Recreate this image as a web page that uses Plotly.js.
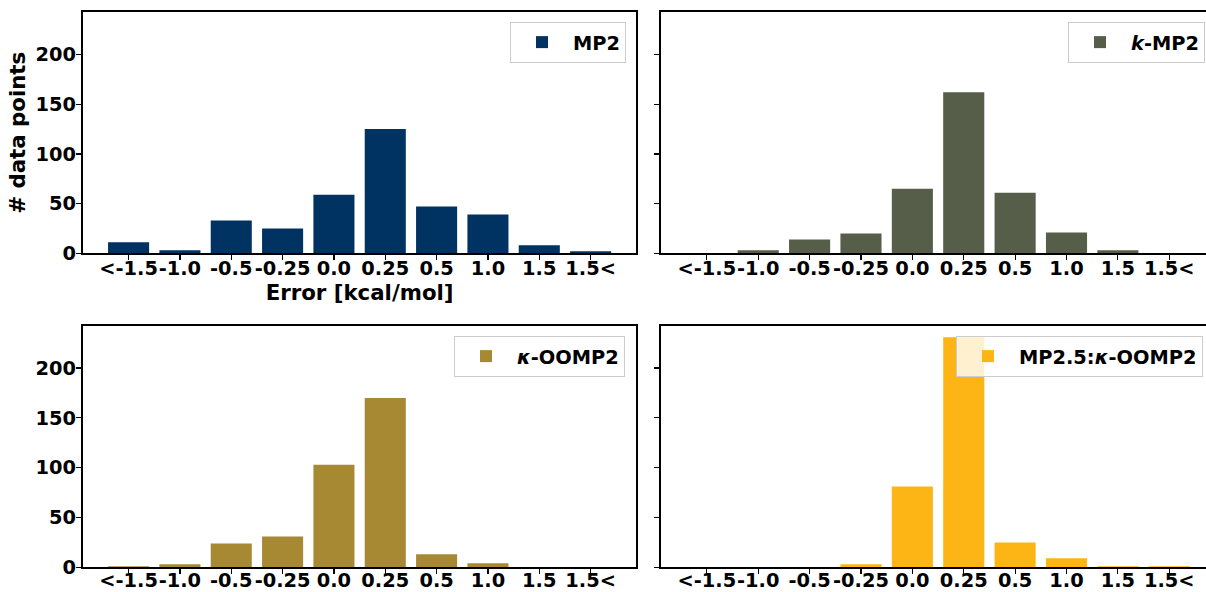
<!DOCTYPE html>
<html>
<head>
<meta charset="utf-8">
<script src="https://cdn.plot.ly/plotly-3.0.1.min.js"></script>
<style>
html, body { margin: 0; padding: 0; overflow: hidden; background: #ffffff; }
#chart { width: 1215px; height: 592px; }
</style>
</head>
<body>
<div id="chart"></div>
<script>
// Error bins (tick labels)
const categories = ["<-1.5", "-1.0", "-0.5", "-0.25", "0.0", "0.25", "0.5", "1.0", "1.5", "1.5<"];

// Number of data points per bin, per method
const mp2        = [11, 3, 33, 25, 59, 125, 47, 39, 8, 2];
const kMp2       = [0, 3, 14, 20, 65, 162, 61, 21, 3, 0];
const kappaOomp2 = [1, 3, 24, 31, 103, 170, 13, 4, 0, 0];
const mp25Oomp2  = [0, 0, 0, 3, 81, 231, 25, 9, 1, 1];

const seriesNames = ["MP2", "<i>k</i>-MP2", "<i>κ</i>-OOMP2", "MP2.5:<i>κ</i>-OOMP2"];
const seriesColors = ["#003262", "#565E4A", "#A88933", "#FDB515"];
const seriesValues = [mp2, kMp2, kappaOomp2, mp25Oomp2];
const yTicks = [0, 50, 100, 150, 200];

const W = 1215, H = 592;
const FONT = "DejaVu Sans";

const xDom = [[82.9 / W, 636.3 / W], [661.1 / W, 1.0]];
const yDom = [[(H - 253.3) / H, (H - 12.3) / H], [(H - 567.3) / H, (H - 325.7) / H]];

const ymax = Math.max(...seriesValues.flat()) * 1.05;

const traces = [];
const layout = {
  width: W, height: H,
  margin: {l: 0, r: 0, t: 0, b: 0, pad: 0},
  paper_bgcolor: "#ffffff",
  plot_bgcolor: "#ffffff",
  showlegend: true,
  font: {family: FONT, color: "#000000", weight: "bold"}
};

const legendPos = [
  {x: 626 / W, y: (H - 22) / H},
  {x: 1205 / W, y: (H - 22) / H},
  {x: 625 / W, y: (H - 336) / H},
  {x: 1203 / W, y: (H - 336) / H}
];

for (let i = 0; i < 4; i++) {
  const col = i % 2, row = Math.floor(i / 2);
  const idx = i + 1;
  const xa = idx === 1 ? "x" : "x" + idx;
  const ya = idx === 1 ? "y" : "y" + idx;
  const lg = idx === 1 ? "legend" : "legend" + idx;
  traces.push({
    type: "bar",
    x: categories,
    y: seriesValues[i],
    name: seriesNames[i],
    marker: {color: seriesColors[i], line: {width: 0}},
    width: 0.8,
    xaxis: xa, yaxis: ya,
    legend: lg,
    hoverinfo: "x+y"
  });
  const xKey = idx === 1 ? "xaxis" : "xaxis" + idx;
  const yKey = idx === 1 ? "yaxis" : "yaxis" + idx;
  layout[xKey] = {
    domain: xDom[col],
    anchor: ya,
    type: "category",
    range: [-0.89, 9.89],
    tickangle: 0,
    ticklabelstandoff: row === 0 ? -9 : -11,
    showline: true, mirror: true, linecolor: "#000000", linewidth: 2,
    ticks: "outside", ticklen: 5, tickwidth: 1.2, tickcolor: "#000000",
    showgrid: false, zeroline: false,
    tickfont: {family: FONT, size: 19.4, color: "#000000", weight: "bold"},
    automargin: false,
    fixedrange: true
  };
  layout[yKey] = {
    domain: yDom[row],
    anchor: xa,
    range: [0, ymax],
    tickvals: yTicks,
    showticklabels: col === 0,
    ticklabelstandoff: -4,
    showline: true, mirror: true, linecolor: "#000000", linewidth: 2,
    ticks: "outside", ticklen: 5, tickwidth: 1.2, tickcolor: "#000000",
    showgrid: false, zeroline: false,
    tickfont: {family: FONT, size: 19.4, color: "#000000", weight: "bold"},
    automargin: false,
    fixedrange: true
  };
  layout[lg] = {
    x: legendPos[i].x, y: legendPos[i].y,
    xanchor: "right", yanchor: "top",
    bgcolor: "rgba(255,255,255,0.8)",
    bordercolor: "#cccccc", borderwidth: 1,
    font: {family: FONT, size: 19.4, color: "#000000", weight: "bold"},
    itemwidth: 52
  };
}

layout.xaxis.title = {text: "Error [kcal/mol]", font: {family: FONT, size: 21.3, color: "#000000", weight: "bold"}, standoff: 6};
layout.yaxis.title = {text: "# data points", font: {family: FONT, size: 21.3, color: "#000000", weight: "bold"}, standoff: 4};

Plotly.newPlot("chart", traces, layout, {staticPlot: true, displayModeBar: false});
</script>
</body>
</html>
